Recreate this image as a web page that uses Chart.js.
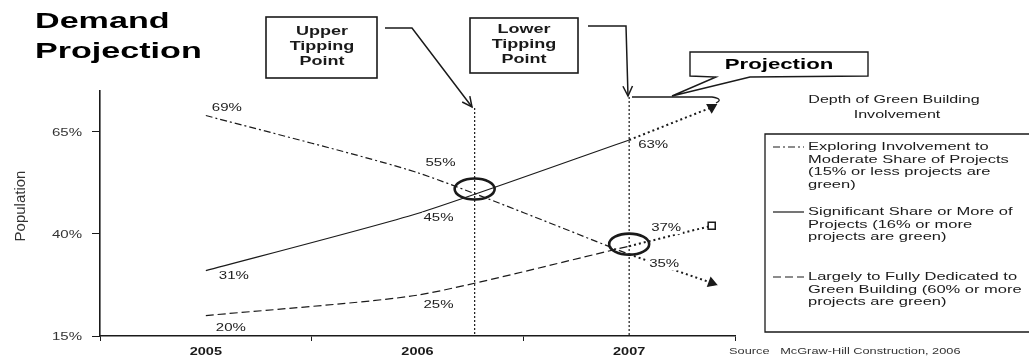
<!DOCTYPE html>
<html>
<head>
<meta charset="utf-8">
<title>Demand Projection</title>
<script src="https://cdn.jsdelivr.net/npm/chart.js@4.4.1/dist/chart.umd.min.js"></script>
<style>
  html, body { margin: 0; padding: 0; background: #fff; }
  #wrap { width: 1029px; height: 363px; position: relative; }
</style>
</head>
<body>
<div id="wrap"><canvas id="demandChart" width="1029" height="363"></canvas></div>
<script>
/* ----------------------------------------------------------
   DATA
---------------------------------------------------------- */
const years = [2005, 2006, 2007];
const exploring   = [69, 55, 35];
const significant = [31, 45, 63];
const dedicated   = [20, 25, 37];

// projected trend past 2007 (dotted)
const projYears = [2007, 2007.39];
const exploringProj   = [35, 28];
const significantProj = [63, 71];
const dedicatedProj   = [37, 42];

const yTicks = [15, 40, 65];
const xTicks = [2004.5, 2005, 2005.5, 2006, 2006.5, 2007, 2007.5];

const seriesNames = [
  ["Exploring Involvement to", "Moderate Share of Projects", "(15% or less projects are", "green)"],
  ["Significant Share or More of", "Projects (16% or more", "projects are green)"],
  ["Largely to Fully Dedicated to", "Green Building (60% or more", "projects are green)"]
];

/* ----------------------------------------------------------
   LOOK & LAYOUT
---------------------------------------------------------- */
const FONT = '"Liberation Sans", Arial, sans-serif';
const INK = "#1a1a1a";

// where each value label sits relative to its point
const labelOffsets = [
  [[21, -7], [23, -9], [35, 10]],
  [[28, 6], [21, 5], [24, 5]],
  [[25, 13], [21, 10], [37, -18]]
];

// tipping point markers (ellipse + dotted drop line)
const tipping = [
  { x: 2006.27, y: 51, top: 108 },
  { x: 2007, y: 37.5, top: 97 }
];

const legendRows = [147, 212, 277];

/* ----------------------------------------------------------
   TEXT HELPER (horizontally widened type)
---------------------------------------------------------- */
function wideText(ctx, text, x, y, o) {
  ctx.save();
  ctx.font = o.font;
  ctx.fillStyle = o.color || INK;
  ctx.textAlign = o.align || "left";
  ctx.textBaseline = o.baseline || "middle";
  ctx.translate(x, y);
  ctx.scale(o.sx || 1.5, 1);
  if (o.bg) {
    const w = ctx.measureText(text).width;
    const l = o.align === "center" ? -w / 2 : (o.align === "right" ? -w : 0);
    ctx.fillStyle = o.bg;
    ctx.fillRect(l - 1, -6, w + 2, 12);
    ctx.fillStyle = o.color || INK;
  }
  ctx.fillText(text, 0, 0);
  ctx.restore();
}

function arrow(ctx, pts) {
  ctx.beginPath();
  ctx.moveTo(pts[0][0], pts[0][1]);
  pts.slice(1).forEach(p => ctx.lineTo(p[0], p[1]));
  ctx.stroke();
  const [ax, ay] = pts[pts.length - 2];
  const [bx, by] = pts[pts.length - 1];
  const a = Math.atan2(by - ay, bx - ax);
  ctx.beginPath();
  ctx.moveTo(bx - 11 * Math.cos(a - 0.45), by - 11 * Math.sin(a - 0.45));
  ctx.lineTo(bx, by);
  ctx.lineTo(bx - 11 * Math.cos(a + 0.45), by - 11 * Math.sin(a + 0.45));
  ctx.stroke();
}

function box(ctx, x, y, w, h, lines, cx, ys) {
  ctx.lineWidth = 1.6;
  ctx.strokeRect(x, y, w, h);
  lines.forEach((t, i) => wideText(ctx, t, cx, ys[i], { font: "bold 12px " + FONT, align: "center", sx: 1.5 }));
}

/* ----------------------------------------------------------
   OVERLAY: labels, callouts, legend, tipping points
---------------------------------------------------------- */
const demandOverlay = {
  id: "demandOverlay",
  afterDraw(chart) {
    const { ctx } = chart;
    const x = chart.scales.x, y = chart.scales.y;
    ctx.save();
    ctx.strokeStyle = INK;

    // title
    wideText(ctx, "Demand", 35, 28, { font: "bold 22px " + FONT, baseline: "alphabetic", sx: 1.55, color: "#000" });
    wideText(ctx, "Projection", 35, 58, { font: "bold 22px " + FONT, baseline: "alphabetic", sx: 1.55, color: "#000" });

    // axis tick labels
    x.ticks.forEach(t => {
      if (Number.isInteger(t.value)) {
        wideText(ctx, String(t.value), x.getPixelForValue(t.value), 352, { font: "bold 10px " + FONT, align: "center", sx: 1.45 });
      }
    });
    y.ticks.forEach(t => {
      wideText(ctx, t.value + "%", 82, y.getPixelForValue(t.value) + 1, { font: "10px " + FONT, align: "right", sx: 1.5, color: "#333" });
    });

    // y title
    ctx.save();
    ctx.translate(21, 206);
    ctx.rotate(-Math.PI / 2);
    ctx.font = "15px " + FONT;
    ctx.fillStyle = "#333";
    ctx.textAlign = "center";
    ctx.textBaseline = "middle";
    ctx.fillText("Population", 0, 0);
    ctx.restore();

    // value labels
    [exploring, significant, dedicated].forEach((vals, s) => {
      vals.forEach((v, i) => {
        const px = x.getPixelForValue(years[i]) + labelOffsets[s][i][0];
        const py = y.getPixelForValue(v) + labelOffsets[s][i][1];
        wideText(ctx, v + "%", px, py, { font: "10px " + FONT, align: "center", sx: 1.5, color: "#222", bg: "#fff" });
      });
    });

    // tipping points
    tipping.forEach(tp => {
      const px = x.getPixelForValue(tp.x);
      ctx.setLineDash([2, 2]);
      ctx.lineWidth = 1.2;
      ctx.beginPath();
      ctx.moveTo(px, tp.top);
      ctx.lineTo(px, y.bottom);
      ctx.stroke();
      ctx.setLineDash([]);
      ctx.lineWidth = 2.6;
      ctx.beginPath();
      ctx.ellipse(px, y.getPixelForValue(tp.y), 20, 10.5, 0, 0, Math.PI * 2);
      ctx.stroke();
    });

    // callout boxes + arrows
    box(ctx, 266, 17, 111, 61, ["Upper", "Tipping", "Point"], 322, [32, 47, 62]);
    box(ctx, 470, 18, 108, 55, ["Lower", "Tipping", "Point"], 524, [30, 45, 60]);
    ctx.lineWidth = 1.5;
    arrow(ctx, [[385, 28], [412, 28], [472, 107]]);
    arrow(ctx, [[588, 26], [626, 26], [628, 96]]);

    // projection bracket
    ctx.lineWidth = 1.3;
    ctx.beginPath();
    ctx.moveTo(632, 97);
    ctx.lineTo(712, 97);
    ctx.quadraticCurveTo(724, 99, 716, 103);
    ctx.stroke();

    // projection speech bubble
    ctx.lineWidth = 1.4;
    ctx.beginPath();
    ctx.moveTo(690, 52);
    ctx.lineTo(868, 52);
    ctx.lineTo(868, 76);
    ctx.lineTo(750, 77);
    ctx.lineTo(672, 96);
    ctx.lineTo(716, 77);
    ctx.lineTo(690, 76);
    ctx.closePath();
    ctx.fillStyle = "#fff";
    ctx.fill();
    ctx.stroke();
    wideText(ctx, "Projection", 779, 65, { font: "bold 15px " + FONT, align: "center", sx: 1.48, color: "#000" });

    // legend
    wideText(ctx, "Depth of Green Building", 894, 100, { font: "11px " + FONT, align: "center", sx: 1.46 });
    wideText(ctx, "Involvement", 897, 115, { font: "11px " + FONT, align: "center", sx: 1.46 });
    ctx.lineWidth = 1.3;
    ctx.beginPath();
    ctx.moveTo(1029, 134);
    ctx.lineTo(765, 134);
    ctx.lineTo(765, 332);
    ctx.lineTo(1029, 332);
    ctx.stroke();
    seriesNames.forEach((lines, s) => {
      const ds = chart.data.datasets[s];
      const ly = legendRows[s];
      ctx.setLineDash(ds.borderDash || []);
      ctx.lineWidth = 1.2;
      ctx.beginPath();
      ctx.moveTo(773, ly);
      ctx.lineTo(804, ly);
      ctx.stroke();
      ctx.setLineDash([]);
      lines.forEach((t, i) => wideText(ctx, t, 808, ly + i * 12.7, { font: "11px " + FONT, sx: 1.5 }));
    });

    wideText(ctx, "Source   McGraw-Hill Construction, 2006", 729, 352, { font: "9px " + FONT, sx: 1.42, color: "#333" });
    ctx.restore();
  }
};

/* ----------------------------------------------------------
   CHART
---------------------------------------------------------- */
const toPoints = (xs, ys) => xs.map((v, i) => ({ x: v, y: ys[i] }));

const mainLine = (vals, dash) => ({
  data: toPoints(years, vals),
  borderColor: INK,
  borderWidth: 1.2,
  borderDash: dash,
  pointRadius: 0,
  tension: 0.2
});

const projLine = (vals, style, rotation, fill) => ({
  data: toPoints(projYears, vals),
  borderColor: INK,
  borderWidth: 2,
  borderDash: [2, 3],
  pointRadius: [0, 5],
  pointStyle: style,
  pointRotation: rotation,
  pointBackgroundColor: fill,
  pointBorderColor: INK,
  pointBorderWidth: 1.5
});

new Chart(document.getElementById("demandChart"), {
  type: "line",
  data: {
    datasets: [
      mainLine(exploring, [7, 3, 2, 3]),
      mainLine(significant, []),
      mainLine(dedicated, [8, 4]),
      projLine(exploringProj, "triangle", 110, INK),
      projLine(significantProj, "triangle", 180, INK),
      projLine(dedicatedProj, "rect", 0, "#fff")
    ]
  },
  options: {
    responsive: false,
    animation: false,
    layout: { padding: { top: 91, right: 294, left: 0, bottom: 0 } },
    plugins: { legend: { display: false }, tooltip: { enabled: false } },
    scales: {
      x: {
        type: "linear",
        min: 2004.5,
        max: 2007.5,
        afterBuildTicks: s => { s.ticks = xTicks.map(v => ({ value: v })); },
        afterFit: s => { s.height = 27; },
        ticks: { display: false },
        grid: {
          drawOnChartArea: false,
          tickLength: 5,
          tickColor: c => (c.tick && Number.isInteger(c.tick.value)) ? "rgba(0,0,0,0)" : INK
        },
        border: { display: true, color: INK, width: 1.5 }
      },
      y: {
        min: 15,
        max: 75,
        afterBuildTicks: s => { s.ticks = yTicks.map(v => ({ value: v })); },
        afterFit: s => { s.width = 100; },
        ticks: { display: false },
        grid: { drawOnChartArea: false, tickLength: 8, tickColor: INK },
        border: { display: true, color: INK, width: 1.6 }
      }
    }
  },
  plugins: [demandOverlay]
});
</script>
</body>
</html>
